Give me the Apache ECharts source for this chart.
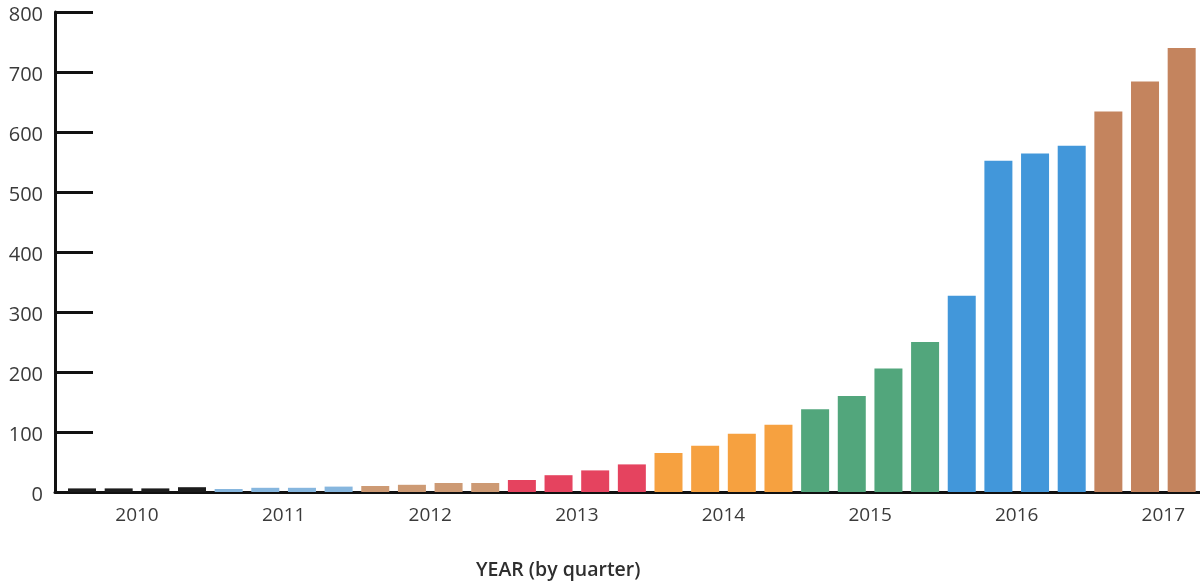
<!DOCTYPE html>
<html>
<head>
<meta charset="utf-8">
<script src="https://cdn.jsdelivr.net/npm/echarts@6/dist/echarts.min.js"></script>
<style>
html,body{margin:0;padding:0;background:#fff;}
#chart{width:1200px;height:584px;}
</style>
</head>
<body>
<div id="chart"></div>
<script>
// Data
var years = ['2010', '2011', '2012', '2013', '2014', '2015', '2016', '2017'];
var quarters = ['Q1', 'Q2', 'Q3', 'Q4'];
var values2010 = [6, 6, 6, 8];
var values2011 = [5, 7, 7, 9];
var values2012 = [10, 12, 15, 15];
var values2013 = [20, 28, 36, 46];
var values2014 = [65, 77, 97, 112];
var values2015 = [138, 160, 206, 250];
var values2016 = [327, 552, 564, 577];
var values2017 = [634, 684, 740];
var yearColors = ['#1c1c1c', '#86b6de', '#cd9a74', '#e5435f', '#f6a140', '#52a67c', '#4297da', '#c4845e'];
var yTicks = [0, 100, 200, 300, 400, 500, 600, 700, 800];

var valuesByYear = [values2010, values2011, values2012, values2013, values2014, values2015, values2016, values2017];

var quarterCats = [];
var barData = [];
valuesByYear.forEach(function (vals, yi) {
  vals.forEach(function (v, qi) {
    quarterCats.push(years[yi] + ' ' + quarters[qi]);
    barData.push({ value: v, itemStyle: { color: yearColors[yi] } });
  });
});
// year label positions: middle of each year's four quarters (in quarter units)
var yearPositions = years.map(function (y, i) { return i * 4 + 2; });

var chart = echarts.init(document.getElementById('chart'));
var labelFont = { color: '#3a3a3a', fontFamily: 'Open Sans' };
chart.setOption({
  animation: false,
  title: {
    text: 'YEAR (by quarter)',
    left: 471,
    top: 555,
    textStyle: { color: '#2e2e2e', fontSize: 19.5, fontWeight: 600, fontFamily: 'Open Sans' }
  },
  grid: [
    { left: 63.7, top: 12, right: 0, height: 480 },
    { left: 55, top: 12, right: 0, height: 480 }
  ],
  xAxis: [
    {
      type: 'category', gridIndex: 0, data: quarterCats,
      axisLine: { show: false }, axisTick: { show: false }, axisLabel: { show: false }
    },
    {
      type: 'value', gridIndex: 0, min: 0, max: quarterCats.length, position: 'bottom',
      axisLine: { show: false }, axisTick: { show: false }, splitLine: { show: false },
      axisLabel: Object.assign({
        margin: 14, fontSize: 19,
        customValues: yearPositions,
        formatter: function (v) { return years[Math.round((v - 2) / 4)] || ''; }
      }, labelFont)
    },
    {
      type: 'value', gridIndex: 1, min: 0, max: 1,
      axisLine: { show: true, lineStyle: { color: '#111', width: 3 } },
      axisTick: { show: false }, axisLabel: { show: false }, splitLine: { show: false }
    }
  ],
  yAxis: [
    {
      type: 'value', gridIndex: 0, min: 0, max: 800, show: false, splitLine: { show: false }
    },
    {
      type: 'value', gridIndex: 1, min: 0, max: 800, interval: 100,
      axisLine: { show: true, lineStyle: { color: '#111', width: 3 } },
      axisTick: { show: true, inside: true, length: 38, lineStyle: { color: '#111', width: 3 } },
      axisLabel: Object.assign({
        margin: 12, fontSize: 20,
        formatter: function (v) { return yTicks.indexOf(v) >= 0 ? '{t|' + v + '}' : ''; },
        rich: { t: { fontSize: 20, color: '#3a3a3a', fontFamily: 'Open Sans', padding: [7, 0, 0, 0] } }
      }, labelFont),
      splitLine: { show: false }
    }
  ],
  series: [
    {
      type: 'bar', xAxisIndex: 0, yAxisIndex: 0,
      data: barData, barWidth: 28, z: 3
    }
  ]
});
</script>
</body>
</html>
